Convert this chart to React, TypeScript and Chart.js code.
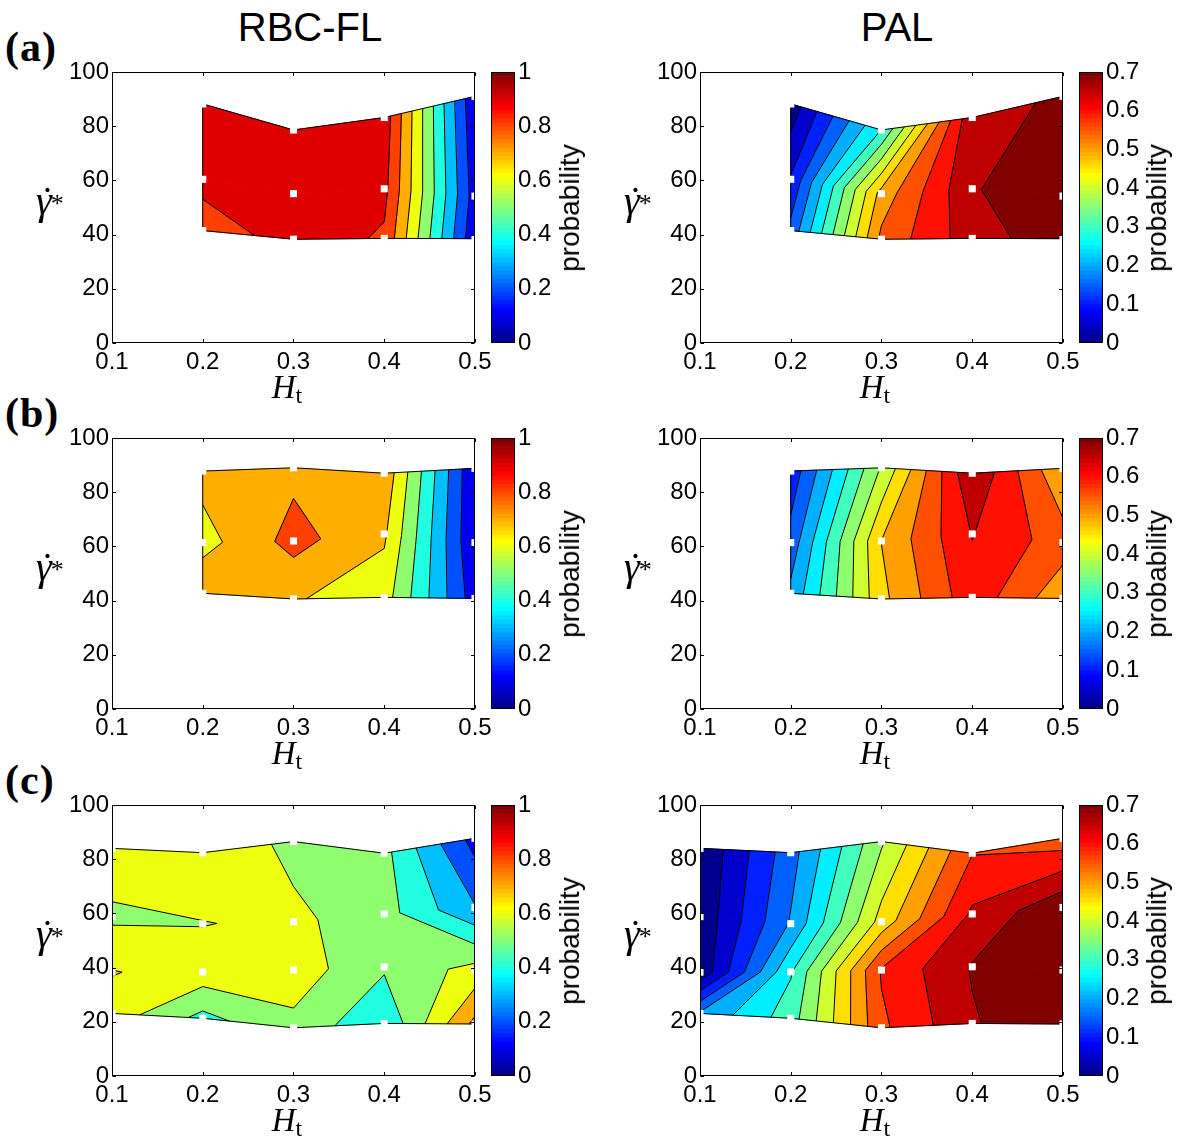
import React, { useEffect, useRef } from 'react';
import { Chart, registerables } from 'chart.js';

Chart.register(...registerables);

// ---------------- data ----------------
const htTicks = [0.1, 0.2, 0.3, 0.4, 0.5];
const htTickLabels = ['0.1', '0.2', '0.3', '0.4', '0.5'];
const gammaTicks = [0, 20, 40, 60, 80, 100];
const gammaTickLabels = ['0', '20', '40', '60', '80', '100'];
const rbcBarTicks = [0, 0.2, 0.4, 0.6, 0.8, 1];
const rbcBarLabels = ['0', '0.2', '0.4', '0.6', '0.8', '1'];
const palBarTicks = [0, 0.1, 0.2, 0.3, 0.4, 0.5, 0.6, 0.7];
const palBarLabels = ['0', '0.1', '0.2', '0.3', '0.4', '0.5', '0.6', '0.7'];
const rbcLevels = [0, 0.1, 0.2, 0.3, 0.4, 0.5, 0.6, 0.7, 0.8, 0.9, 1.0];
const palLevels = [0, 0.05, 0.1, 0.15, 0.2, 0.25, 0.3, 0.35, 0.4, 0.45, 0.5, 0.55, 0.6, 0.65, 0.7, 0.75];

// row (a): columns of Ht, each with gamma (bottom -> top) and probabilities
const htA = [0.2, 0.3, 0.4, 0.5];
const gammaA = [
  [41.5, 60.4, 88.2],
  [38.3, 55.1, 78.6],
  [38.6, 56.9, 83.2],
  [38.5, 54.2, 91.0],
];
const rbcA = [
  [0.81, 0.957, 0.95],
  [0.968, 0.97, 0.96],
  [0.885, 0.93, 0.96],
  [0.12, 0.15, 0.11],
];
const palA = [
  [0.165, 0.105, 0.018],
  [0.563, 0.52, 0.301],
  [0.678, 0.695, 0.693],
  [0.729, 0.745, 0.703],
];

// row (b)
const htB = [0.2, 0.3, 0.4, 0.5];
const gammaB = [
  [42.7, 61.4, 87.8],
  [40.6, 62.0, 89.0],
  [41.2, 64.6, 87.0],
  [40.8, 61.4, 88.8],
];
const rbcB = [
  [0.789, 0.662, 0.734],
  [0.709, 0.836, 0.774],
  [0.646, 0.716, 0.773],
  [0.146, 0.105, 0.107],
];
const palB = [
  [0.212, 0.17, 0.118],
  [0.487, 0.501, 0.405],
  [0.632, 0.652, 0.698],
  [0.515, 0.573, 0.503],
];

// row (c)
const htC = [0.1, 0.2, 0.3, 0.4, 0.5];
const gammaC = [
  [23.1, 38.3, 58.8, 84.0],
  [21.3, 38.4, 56.2, 82.4],
  [17.8, 39.1, 56.9, 86.5],
  [19.4, 40.3, 59.8, 82.2],
  [19.2, 39.1, 62.2, 87.7],
];
const rbcC = [
  [0.657, 0.705, 0.581, 0.668],
  [0.47, 0.66, 0.596, 0.687],
  [0.572, 0.654, 0.622, 0.572],
  [0.414, 0.514, 0.54, 0.53],
  [0.827, 0.636, 0.306, 0.16],
];
const palC = [
  [0.207, 0.011, 0.012, 0.005],
  [0.326, 0.295, 0.205, 0.18],
  [0.59, 0.605, 0.47, 0.393],
  [0.695, 0.704, 0.659, 0.598],
  [0.745, 0.745, 0.74, 0.57],
];

// ---------------- colormap (MATLAB jet, 64 entries) ----------------
function jetTable(m: number): number[][] {
  const n = Math.ceil(m / 4);
  const u: number[] = [];
  for (let i = 1; i <= n; i++) u.push(i / n);
  for (let i = 0; i < n - 1; i++) u.push(1);
  for (let i = n; i >= 1; i--) u.push(i / n);
  const off = Math.ceil(n / 2) - (m % 4 === 1 ? 1 : 0);
  const J = Array.from({ length: m }, () => [0, 0, 0]);
  const g: number[] = [], r: number[] = [], b: number[] = [];
  for (let i = 1; i <= u.length; i++) {
    const gi = off + i;
    if (gi <= m) g.push(gi);
    if (gi + n <= m) r.push(gi + n);
    if (gi - n >= 1) b.push(gi - n);
  }
  r.forEach((row, k) => (J[row - 1][0] = u[k]));
  g.forEach((row, k) => (J[row - 1][1] = u[k]));
  b.forEach((row, k) => (J[row - 1][2] = u[u.length - b.length + k]));
  return J;
}
const JET = jetTable(64);
const rgb = (c: number[]) => `rgb(${Math.round(c[0] * 255)},${Math.round(c[1] * 255)},${Math.round(c[2] * 255)})`;
function levelColor(v: number, cmax: number): string {
  let idx = Math.floor((v / cmax) * 64 + 1e-9);
  idx = Math.max(0, Math.min(63, idx));
  return rgb(JET[idx]);
}

// ---------------- contour helpers ----------------
type V = { x: number; y: number; v: number; iso?: number };
function clipPoly(poly: V[], lvl: number, above: boolean): V[] {
  const out: V[] = [];
  const n = poly.length;
  for (let k = 0; k < n; k++) {
    const P = poly[k];
    const Q = poly[(k + 1) % n];
    const pin = above ? P.v >= lvl : P.v < lvl;
    const qin = above ? Q.v >= lvl : Q.v < lvl;
    if (pin) out.push(P);
    if (pin !== qin) {
      const t = (lvl - P.v) / (Q.v - P.v);
      out.push({ x: P.x + t * (Q.x - P.x), y: P.y + t * (Q.y - P.y), v: lvl, iso: lvl });
    }
  }
  return out;
}

const SANS = '"Liberation Sans", Arial, Helvetica, sans-serif';
const SERIF = '"Liberation Serif", "Times New Roman", serif';
const TICK_FONT = { family: SANS, size: 24 };

function fixScale(size: number, horizontal: boolean) {
  return (s: any) => {
    if (horizontal) s.height = size;
    else s.width = size;
    s.paddingLeft = 0;
    s.paddingRight = 0;
    s.paddingTop = 0;
    s.paddingBottom = 0;
  };
}

type PanelProps = {
  left: number; top: number; w: number; h: number;
  xs: number[]; ys: number[][]; vs: number[][]; levels: number[]; cmax: number;
};

function ContourChart({ left, top, w, h, xs, ys, vs, levels, cmax }: PanelProps) {
  const ref = useRef<HTMLCanvasElement>(null);
  const padL = 70, padT = 24, padR = 30, padB = 44;
  const cw = w + padL + padR;
  const ch = h + padT + padB;
  useEffect(() => {
    const points: { x: number; y: number }[] = [];
    xs.forEach((x, i) => ys[i].forEach((y) => points.push({ x, y })));
    const plugin = {
      id: 'contourPanel',
      beforeDatasetsDraw(chart: any) {
        const { ctx, chartArea: a, scales } = chart;
        const sx = scales.x, sy = scales.y;
        const X = (p: V) => sx.getPixelForValue(p.x);
        const Y = (p: V) => sy.getPixelForValue(p.y);
        ctx.save();
        ctx.beginPath();
        ctx.rect(a.left, a.top, a.right - a.left, a.bottom - a.top);
        ctx.clip();
        const cells: V[][] = [];
        for (let i = 0; i < xs.length - 1; i++) {
          for (let j = 0; j < ys[i].length - 1; j++) {
            cells.push([
              { x: xs[i], y: ys[i][j], v: vs[i][j] },
              { x: xs[i + 1], y: ys[i + 1][j], v: vs[i + 1][j] },
              { x: xs[i + 1], y: ys[i + 1][j + 1], v: vs[i + 1][j + 1] },
              { x: xs[i], y: ys[i][j + 1], v: vs[i][j + 1] },
            ]);
          }
        }
        ctx.lineJoin = 'round';
        for (const cell of cells) {
          for (let k = 0; k < levels.length - 1; k++) {
            const poly = clipPoly(clipPoly(cell, levels[k], true), levels[k + 1], false);
            if (poly.length < 3) continue;
            const col = levelColor(levels[k], cmax);
            ctx.beginPath();
            poly.forEach((p, q) => (q === 0 ? ctx.moveTo(X(p), Y(p)) : ctx.lineTo(X(p), Y(p))));
            ctx.closePath();
            ctx.fillStyle = col;
            ctx.fill();
            ctx.strokeStyle = col;
            ctx.lineWidth = 1;
            ctx.stroke();
          }
        }
        // iso lines
        ctx.strokeStyle = '#000';
        ctx.lineWidth = 1;
        ctx.beginPath();
        for (const cell of cells) {
          for (const L of levels) {
            const poly = clipPoly(cell, L, true);
            for (let k = 0; k < poly.length; k++) {
              const P = poly[k];
              const Q = poly[(k + 1) % poly.length];
              if (P.iso === L && Q.iso === L) {
                ctx.moveTo(X(P), Y(P));
                ctx.lineTo(X(Q), Y(Q));
              }
            }
          }
        }
        ctx.stroke();
        // domain outline
        const nx = xs.length;
        const ny = ys[0].length;
        const outline: V[] = [];
        for (let i = 0; i < nx; i++) outline.push({ x: xs[i], y: ys[i][0], v: 0 });
        for (let j = 1; j < ny; j++) outline.push({ x: xs[nx - 1], y: ys[nx - 1][j], v: 0 });
        for (let i = nx - 2; i >= 0; i--) outline.push({ x: xs[i], y: ys[i][ny - 1], v: 0 });
        for (let j = ny - 2; j >= 1; j--) outline.push({ x: xs[0], y: ys[0][j], v: 0 });
        ctx.beginPath();
        outline.forEach((p, q) => (q === 0 ? ctx.moveTo(X(p), Y(p)) : ctx.lineTo(X(p), Y(p))));
        ctx.closePath();
        ctx.stroke();
        ctx.restore();
      },
      afterDatasetsDraw(chart: any) {
        const { ctx, chartArea: a, scales } = chart;
        const x0 = Math.round(a.left) + 0.5, x1 = Math.round(a.right) - 0.5;
        const y0 = Math.round(a.top) + 0.5, y1 = Math.round(a.bottom) - 0.5;
        ctx.save();
        ctx.strokeStyle = '#000';
        ctx.lineWidth = 1;
        ctx.strokeRect(x0, y0, x1 - x0, y1 - y0);
        const tl = 3.5;
        ctx.beginPath();
        htTicks.forEach((v) => {
          const px = Math.round(scales.x.getPixelForValue(v)) + 0.5;
          ctx.moveTo(px, y1); ctx.lineTo(px, y1 - tl);
          ctx.moveTo(px, y0); ctx.lineTo(px, y0 + tl);
        });
        gammaTicks.forEach((v) => {
          const py = Math.round(scales.y.getPixelForValue(v)) + 0.5;
          ctx.moveTo(x0, py); ctx.lineTo(x0 + tl, py);
          ctx.moveTo(x1, py); ctx.lineTo(x1 - tl, py);
        });
        ctx.stroke();
        ctx.restore();
      },
    };
    const chart = new Chart(ref.current as HTMLCanvasElement, {
      type: 'scatter',
      data: {
        datasets: [
          {
            data: points,
            pointStyle: 'rect',
            pointRadius: 5,
            pointHoverRadius: 5,
            backgroundColor: '#ffffff',
            borderWidth: 0,
            clip: 0,
          } as any,
        ],
      },
      options: {
        animation: false,
        responsive: false,
        devicePixelRatio: 1,
        events: [],
        layout: { padding: { left: 0, top: padT, right: padR, bottom: 0 }, autoPadding: false } as any,
        plugins: { legend: { display: false }, tooltip: { enabled: false } },
        scales: {
          x: {
            type: 'linear',
            min: 0.1,
            max: 0.5,
            grid: { display: false, drawTicks: false },
            border: { display: false },
            afterBuildTicks: (s: any) => { s.ticks = htTicks.map((v) => ({ value: v })); },
            afterFit: fixScale(padB, true),
            ticks: {
              callback: (_v: any, i: number) => htTickLabels[i],
              color: '#000',
              font: TICK_FONT,
              padding: 5,
              maxRotation: 0,
              minRotation: 0,
              autoSkip: false,
            },
          },
          y: {
            type: 'linear',
            min: 0,
            max: 100,
            grid: { display: false, drawTicks: false },
            border: { display: false },
            afterBuildTicks: (s: any) => { s.ticks = gammaTicks.map((v) => ({ value: v })); },
            afterFit: fixScale(padL, false),
            ticks: {
              callback: (_v: any, i: number) => gammaTickLabels[i],
              color: '#000',
              font: TICK_FONT,
              padding: 3,
              autoSkip: false,
            },
          },
        },
      } as any,
      plugins: [plugin as any],
    });
    return () => chart.destroy();
  }, []);
  return (
    <canvas
      ref={ref}
      width={cw}
      height={ch}
      style={{ position: 'absolute', left: left - padL, top: top - padT, width: cw, height: ch }}
    />
  );
}

type BarProps = { left: number; top: number; w: number; h: number; cmax: number; ticks: number[]; labels: string[] };

function ColorBar({ left, top, w, h, cmax, ticks, labels }: BarProps) {
  const ref = useRef<HTMLCanvasElement>(null);
  const padT = 24, padB = 24, axisW = 70;
  const cw = w + axisW;
  const ch = h + padT + padB;
  useEffect(() => {
    const datasets = JET.map((c, k) => ({
      data: [[(k * cmax) / 64, ((k + 1) * cmax) / 64]],
      backgroundColor: rgb(c),
      borderWidth: 0,
      grouped: false,
      barPercentage: 1,
      categoryPercentage: 1,
      inflateAmount: 0.6,
    }));
    const frame = {
      id: 'cbFrame',
      afterDatasetsDraw(chart: any) {
        const { ctx, chartArea: a } = chart;
        const x0 = Math.round(a.left) + 0.5, x1 = Math.round(a.right) - 0.5;
        const y0 = Math.round(a.top) + 0.5, y1 = Math.round(a.bottom) - 0.5;
        ctx.save();
        ctx.strokeStyle = '#000';
        ctx.lineWidth = 1;
        ctx.strokeRect(x0, y0, x1 - x0, y1 - y0);
        ctx.restore();
      },
    };
    const chart = new Chart(ref.current as HTMLCanvasElement, {
      type: 'bar',
      data: { labels: [''], datasets: datasets as any },
      options: {
        animation: false,
        responsive: false,
        devicePixelRatio: 1,
        events: [],
        layout: { padding: { left: 0, top: padT, right: 0, bottom: padB }, autoPadding: false } as any,
        plugins: { legend: { display: false }, tooltip: { enabled: false } },
        scales: {
          x: { display: false },
          y: {
            position: 'right',
            type: 'linear',
            min: 0,
            max: cmax,
            grid: { display: false, drawTicks: false },
            border: { display: false },
            afterBuildTicks: (s: any) => { s.ticks = ticks.map((v) => ({ value: v })); },
            afterFit: fixScale(axisW, false),
            ticks: {
              callback: (_v: any, i: number) => labels[i],
              color: '#000',
              font: TICK_FONT,
              padding: 3,
              autoSkip: false,
            },
          },
        },
      } as any,
      plugins: [frame as any],
    });
    return () => chart.destroy();
  }, []);
  return (
    <canvas
      ref={ref}
      width={cw}
      height={ch}
      style={{ position: 'absolute', left, top: top - padT, width: cw, height: ch }}
    />
  );
}

// ---------------- layout ----------------
const BOX_W = 363;
const BOX_H = 271;
const CB_W = 24;
const COLS = [
  { boxLeft: 112, cbLeft: 491, title: 'RBC-FL', titleX: 310, probX: 570, gammaX: 36, htX: 287 },
  { boxLeft: 700, cbLeft: 1079, title: 'PAL', titleX: 897, probX: 1157, gammaX: 624, htX: 875 },
];
const ROW_TOPS = [72, 438, 805];
const ROW_TAGS = ['(a)', '(b)', '(c)'];

const PANELS = [
  { row: 0, col: 0, xs: htA, ys: gammaA, vs: rbcA },
  { row: 0, col: 1, xs: htA, ys: gammaA, vs: palA },
  { row: 1, col: 0, xs: htB, ys: gammaB, vs: rbcB },
  { row: 1, col: 1, xs: htB, ys: gammaB, vs: palB },
  { row: 2, col: 0, xs: htC, ys: gammaC, vs: rbcC },
  { row: 2, col: 1, xs: htC, ys: gammaC, vs: palC },
];

function GammaLabel({ x, baseline }: { x: number; baseline: number }) {
  const fs = 40;
  return (
    <div
      style={{
        position: 'absolute', left: x, top: baseline - fs * 0.8375, fontFamily: SERIF, fontStyle: 'italic',
        fontSize: fs, lineHeight: 1, whiteSpace: 'nowrap', color: '#000',
      }}
    >
      <span style={{ position: 'relative' }}>
        γ
        <span style={{ position: 'absolute', left: '0.12em', top: '0.08em', fontStyle: 'normal' }}>˙</span>
      </span>
      <span style={{ fontSize: 26, fontStyle: 'normal', position: 'relative', top: '-0.05em', marginLeft: '-0.04em' }}>*</span>
    </div>
  );
}

function HtLabel({ cx, baseline }: { cx: number; baseline: number }) {
  return (
    <div
      style={{
        position: 'absolute', left: cx, top: baseline - 27.6, transform: 'translateX(-50%)', fontFamily: SERIF,
        fontSize: 33, lineHeight: 1, whiteSpace: 'nowrap', color: '#000',
      }}
    >
      <span style={{ fontStyle: 'italic' }}>H</span>
      <span style={{ fontSize: 24, position: 'relative', top: '0.2em' }}>t</span>
    </div>
  );
}

export default function App() {
  useEffect(() => {
    document.body.style.margin = '0';
  }, []);
  return (
    <div style={{ position: 'absolute', left: 0, top: 0, width: 1187, height: 1142, background: '#fff', overflow: 'hidden' }}>
      {COLS.map((c) => (
        <div
          key={c.title}
          style={{
            position: 'absolute', left: c.titleX, top: 7, transform: 'translateX(-50%)', fontFamily: SANS,
            fontSize: 40, lineHeight: 1, whiteSpace: 'nowrap', color: '#000',
          }}
        >
          {c.title}
        </div>
      ))}
      {ROW_TOPS.map((t, r) => (
        <div
          key={ROW_TAGS[r]}
          style={{
            position: 'absolute', left: 5, top: t - 46, fontFamily: SERIF, fontWeight: 'bold', fontSize: 42,
            lineHeight: 1, letterSpacing: 1, whiteSpace: 'nowrap', color: '#000',
          }}
        >
          {ROW_TAGS[r]}
        </div>
      ))}
      {PANELS.map((p, k) => {
        const c = COLS[p.col];
        const top = ROW_TOPS[p.row];
        const isPal = p.col === 1;
        return (
          <React.Fragment key={k}>
            <ContourChart
              left={c.boxLeft}
              top={top}
              w={BOX_W}
              h={BOX_H}
              xs={p.xs}
              ys={p.ys}
              vs={p.vs}
              levels={isPal ? palLevels : rbcLevels}
              cmax={isPal ? 0.7 : 1}
            />
            <ColorBar
              left={c.cbLeft}
              top={top}
              w={CB_W}
              h={BOX_H}
              cmax={isPal ? 0.7 : 1}
              ticks={isPal ? palBarTicks : rbcBarTicks}
              labels={isPal ? palBarLabels : rbcBarLabels}
            />
            <GammaLabel x={c.gammaX} baseline={top + 142} />
            <HtLabel cx={c.htX} baseline={top + 327} />
            <div
              style={{
                position: 'absolute', left: c.probX, top: top + BOX_H / 2, transform: 'translate(-50%, -50%) rotate(-90deg)',
                fontFamily: SANS, fontSize: 28, lineHeight: 1, whiteSpace: 'nowrap', color: '#000',
              }}
            >
              probability
            </div>
          </React.Fragment>
        );
      })}
    </div>
  );
}
